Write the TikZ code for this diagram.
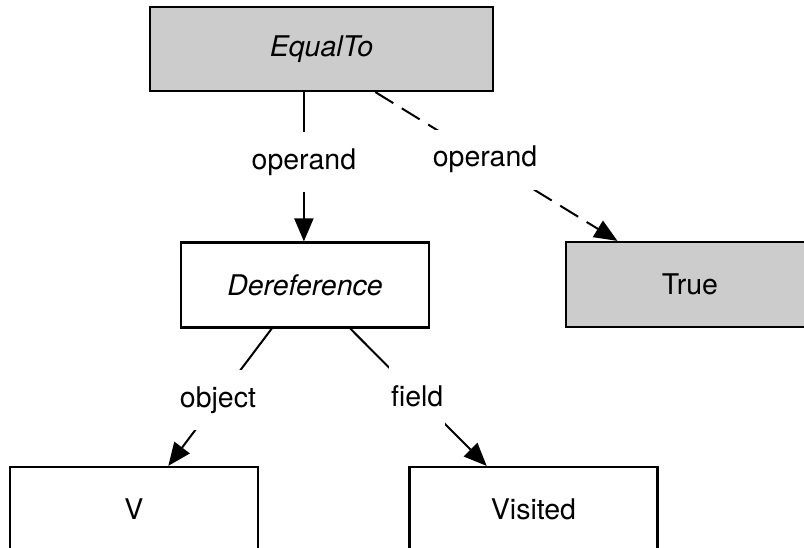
\documentclass[tikz,border=0pt]{standalone}
\usepackage{fontspec}
\setmainfont{TeX Gyre Heros}
\usetikzlibrary{arrows.meta,calc}

\definecolor{boxgray}{HTML}{CCCCCC}

\tikzset{
  x=1pt, y=1pt,
  every node/.style={font=\fontsize{28.5}{34}\selectfont},
  objbox/.style={draw=black, line width=2.2pt, minimum width=248pt,
    minimum height=85pt, inner sep=0pt},
  litbox/.style={objbox, fill=boxgray},
  link/.style={line width=2pt, -{Triangle[length=23pt,width=19pt]}},
  weaklink/.style={link, dash pattern=on 21pt off 10pt},
  role/.style={fill=white, inner xsep=2pt, inner ysep=0pt, minimum height=60pt}
}

\begin{document}
\begin{tikzpicture}
  \useasboundingbox (0,0) rectangle (804,-548);

  % expression nodes
  \node[litbox, minimum width=343pt, minimum height=84pt] (eq) at (321.5,-49) {\itshape EqualTo};
  \node[objbox] (deref) at (305,-285) {\itshape Dereference};
  \node[litbox] (tru) at (690,-284.5) {True};
  \node[objbox] (var) at (134,-509.5) {V};
  \node[objbox] (vis) at (533.5,-509.5) {Visited};

  % attachment points on the box borders
  \coordinate (eqA) at ($(eq.south west)!0.449!(eq.south east)$);
  \coordinate (eqB) at ($(eq.south west)!0.656!(eq.south east)$);
  \coordinate (drA) at ($(deref.south west)!0.367!(deref.south east)$);
  \coordinate (drB) at ($(deref.south west)!0.681!(deref.south east)$);
  \coordinate (trT) at ($(tru.north west)!0.21!(tru.north east)$);
  \coordinate (vT)  at ($(var.north west)!0.637!(var.north east)$);
  \coordinate (viT) at ($(vis.north west)!0.313!(vis.north east)$);

  % connectors
  \draw[link] (eqA) -- node[role, pos=0.47] (op1) {operand} (eqA |- deref.north);
  \draw[weaklink] (eqB) -- node[role, pos=0.453] (op2) {operand} (trT);
  \draw[link] (drA) -- node[role, pos=0.52] (obj) {object} (vT);
  \draw[link] (drB) -- node[role, pos=0.49] (fld) {field} (viT);
\end{tikzpicture}
\end{document}
